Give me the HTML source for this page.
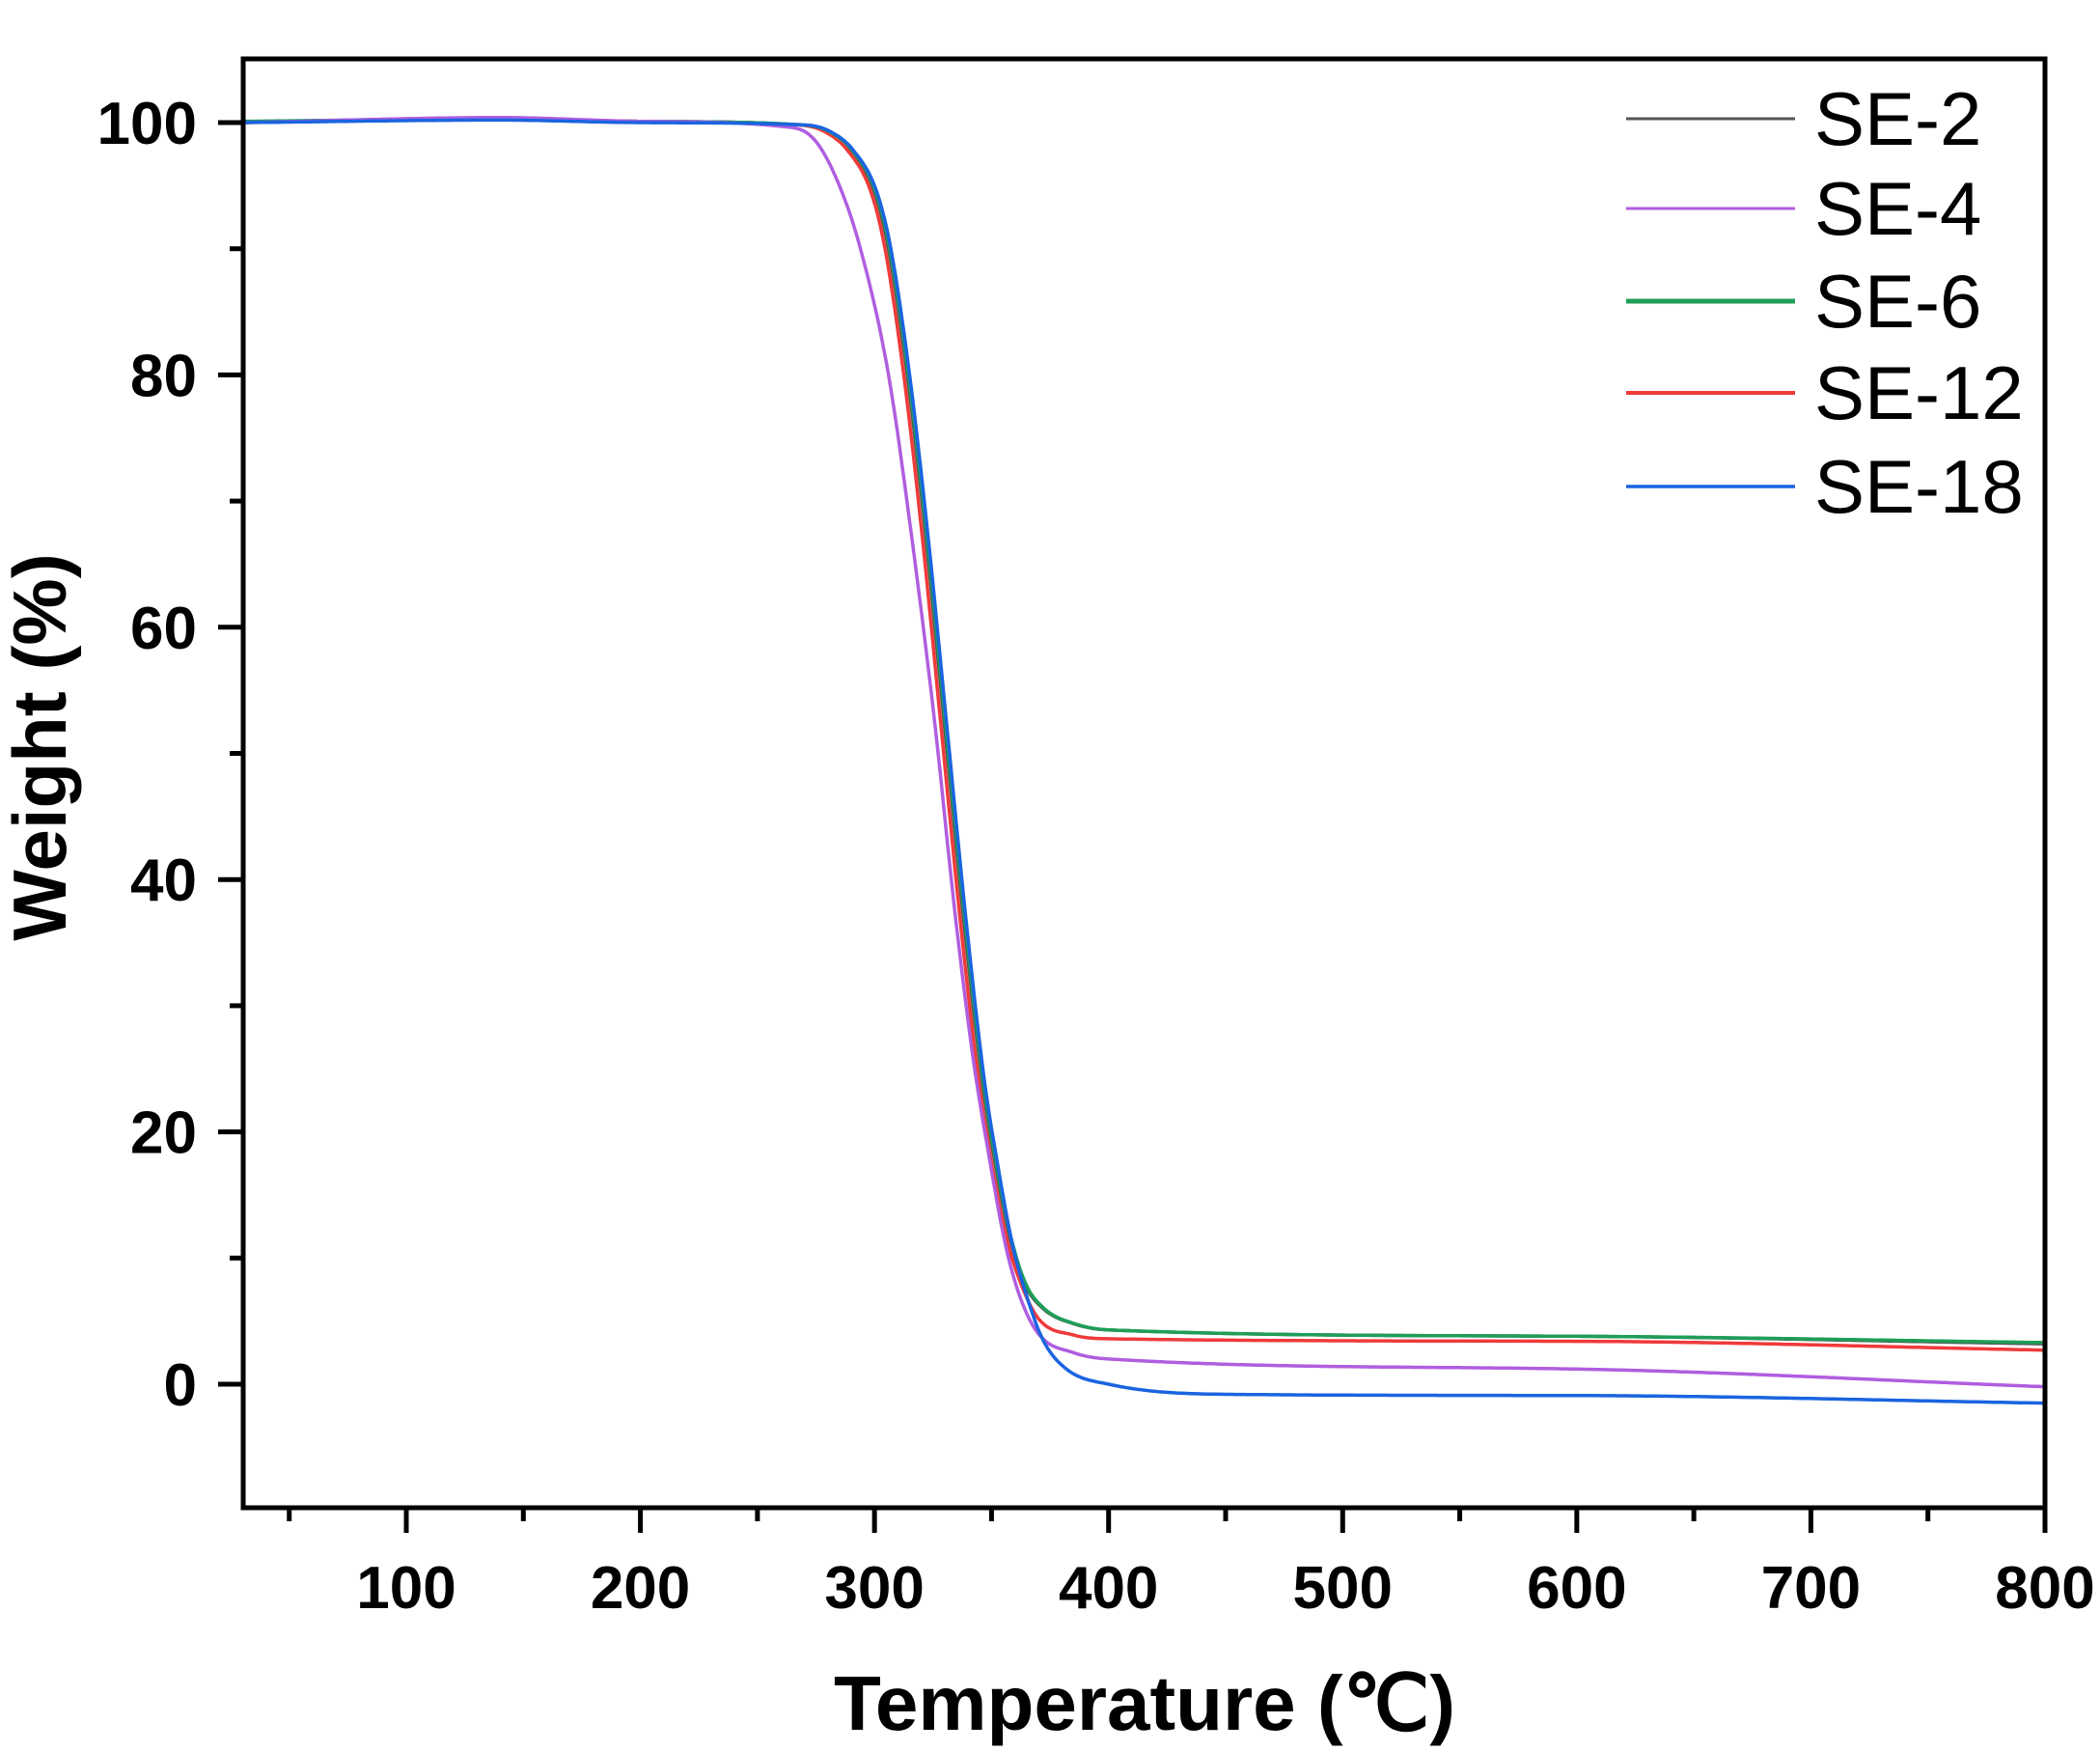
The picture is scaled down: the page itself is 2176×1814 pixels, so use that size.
<!DOCTYPE html>
<html><head><meta charset="utf-8"><style>
html,body{margin:0;padding:0;background:#fff}
svg{display:block}
text{font-family:"Liberation Sans",Arial,sans-serif}
</style></head><body>
<svg id="s" width="2176" height="1814" viewBox="0 0 2176 1814" xmlns="http://www.w3.org/2000/svg">
<rect width="2176" height="1814" fill="#fff"/>
<g id="curves" fill="none" stroke-width="3.5" stroke-linejoin="round"></g>
<rect x="252" y="61" width="1867" height="1501" fill="none" stroke="#000" stroke-width="5"/>
<g id="ticks" stroke="#000" stroke-width="5"></g>
<g id="labels" font-weight="bold" font-size="62" fill="#000"></g>
<text x="1186" y="1792" text-anchor="middle" font-weight="bold" font-size="80">Temperature (℃)</text>
<text transform="translate(68,774) rotate(-90)" text-anchor="middle" font-weight="bold" font-size="78">Weight (%)</text>
<g font-size="78" fill="#000">
<line x1="1685" y1="123" x2="1860" y2="123" stroke="#555" stroke-width="3"/>
<text x="1880" y="150">SE-2</text>
<line x1="1685" y1="216" x2="1860" y2="216" stroke="#b05ee0" stroke-width="3"/>
<text x="1880" y="243">SE-4</text>
<line x1="1685" y1="312" x2="1860" y2="312" stroke="#1f9e58" stroke-width="5"/>
<text x="1880" y="339">SE-6</text>
<line x1="1685" y1="407" x2="1860" y2="407" stroke="#f03a3a" stroke-width="4"/>
<text x="1880" y="434">SE-12</text>
<line x1="1685" y1="504" x2="1860" y2="504" stroke="#1a64e0" stroke-width="3.5"/>
<text x="1880" y="531">SE-18</text>
</g>
</svg>
<script>
const NS="http://www.w3.org/2000/svg";
const X=t=>421+(t-100)*2.4257, Y=w=>1434-w*13.07;
function el(p,n,a){const e=document.createElementNS(NS,n);for(const k in a)e.setAttribute(k,a[k]);p.appendChild(e);return e;}
const tk=document.getElementById('ticks'),lb=document.getElementById('labels');
for(let t=50;t<=800;t+=50){const maj=t%100==0;el(tk,'line',{x1:X(t),x2:X(t),y1:1562,y2:1562+(maj?26:14)});
 if(maj){const e=el(lb,'text',{x:X(t),y:1666,'text-anchor':'middle'});e.textContent=t;}}
for(let w=-10;w<=100;w+=10){if(w<-5)continue;const maj=w%20==0;el(tk,'line',{x1:252,x2:252-(maj?26:14),y1:Y(w),y2:Y(w)});
 if(maj){const e=el(lb,'text',{x:204,y:Y(w)+22,'text-anchor':'end'});e.textContent=w;}}
// monotone cubic interpolation
function mono(pts){const n=pts.length,xs=pts.map(p=>p[0]),ys=pts.map(p=>p[1]);const d=[],m=[];
 for(let i=0;i<n-1;i++)d.push((ys[i+1]-ys[i])/(xs[i+1]-xs[i]));
 m[0]=d[0];m[n-1]=d[n-2];for(let i=1;i<n-1;i++)m[i]=(d[i-1]*d[i]<=0)?0:(d[i-1]+d[i])/2;
 for(let i=0;i<n-1;i++){if(d[i]==0){m[i]=m[i+1]=0;continue;}const a=m[i]/d[i],b=m[i+1]/d[i],s=a*a+b*b;if(s>9){const t=3/Math.sqrt(s);m[i]=t*a*d[i];m[i+1]=t*b*d[i];}}
 let out=[];for(let i=0;i<n-1;i++){const h=xs[i+1]-xs[i];const k=Math.max(2,Math.ceil(h/1));for(let j=0;j<k;j++){const t=j/k,t2=t*t,t3=t2*t;
 const y=(2*t3-3*t2+1)*ys[i]+(t3-2*t2+t)*h*m[i]+(-2*t3+3*t2)*ys[i+1]+(t3-t2)*h*m[i+1];out.push([xs[i]+t*h,y]);}}
 out.push(pts[n-1]);return 'M'+out.map(p=>X(p[0]).toFixed(1)+','+Y(p[1]).toFixed(1)).join(' L');}
const base=[[270,99.8],[280,99.3],[290,97.8],[300,94.5],[306,90],[314,80],[322,67],[330,52],[338,37],[346,24],[352,17],[358,11.5],[364,8],[372,6],[385,4.8],[400,4.3]];
const sh=(pts,dx)=>pts.map(p=>[p[0]+dx,p[1]]);
const S={
'#555':[[30,100],[140,100.3],[200,100.1]].concat(base,[[600,3.8],[800,3.2]]),
'#f03a3a':[[30,100],[140,100.3],[200,100.1]].concat(sh(base.slice(0,13),-1.5),[[370,5.2],[385,3.9],[400,3.6],[600,3.4],[800,2.7]]),
'#1f9e58':[[30,100.1],[140,100.3],[200,100.1]].concat(sh(base,0.5),[[600,3.8],[800,3.3]]),
'#b05ee0':[[30,100],[140,100.4],[200,100.1],[265,99.6],[275,98.5],[285,95],[294,90],[306,80],[316,67],[326,52],[334,38],[342,26],[349,18],[356,11],[362,7],[370,4],[385,2.5],[400,2],[600,1.2],[800,-0.2]],
'#1a64e0':[[30,100],[140,100.2],[200,100]].concat(sh(base.slice(0,11),1),[[359,11],[365,7],[372,3.5],[382,1.2],[400,0],[450,-0.8],[600,-0.9],[800,-1.5]])};
const g=document.getElementById('curves');
for(const c in S)el(g,'path',{d:mono(S[c]),stroke:c});
</script>
</body></html>
